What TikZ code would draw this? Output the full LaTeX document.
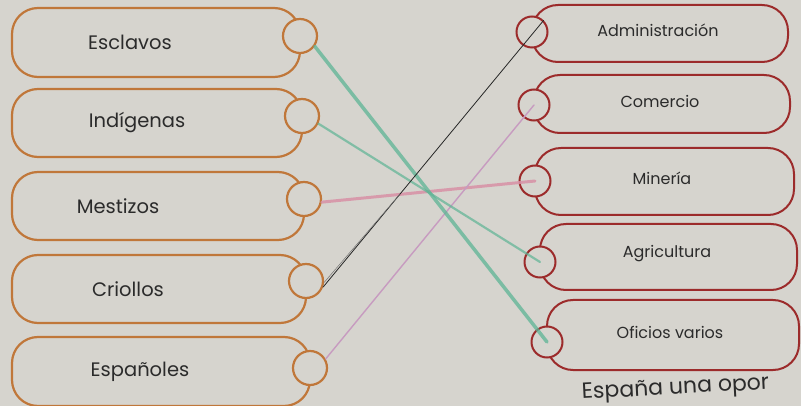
\documentclass[tikz,border=0pt]{standalone}
\usepackage{fontspec}
\setmainfont{Poppins}
\usetikzlibrary{calc}
\definecolor{paper}{HTML}{D6D4CE}
\definecolor{lline}{HTML}{C0773A}
\definecolor{rline}{HTML}{9C2B2B}
\definecolor{ink}{HTML}{2B2B2B}
\definecolor{gpen}{HTML}{5DB495}
\definecolor{ppen}{HTML}{D890A6}
\definecolor{vpen}{HTML}{C79BC0}
\tikzset{
  lbox/.style={draw=lline, line width=2.2pt, rounded corners=26pt, inner sep=0pt},
  rbox/.style={draw=rline, line width=2pt, rounded corners=26pt, inner sep=0pt},
  lcirc/.style={circle, draw=lline, line width=2.2pt, fill=paper, minimum size=34pt, inner sep=0pt},
  rcirc/.style={circle, draw=rline, line width=2pt, fill=paper, minimum size=31pt, inner sep=0pt},
  ltext/.style={text=ink, font=\fontsize{19.5}{22}\selectfont},
  rtext/.style={text=ink, font=\fontsize{16}{18}\selectfont},
  greenpen/.style={draw=gpen, line width=3.5pt, opacity=0.75, line cap=round},
  greenthin/.style={draw=gpen, line width=2.2pt, opacity=0.7, line cap=round},
  pinkpen/.style={draw=ppen, line width=3pt, opacity=0.85, line cap=round},
  violetpen/.style={draw=vpen, line width=1.4pt, line cap=round},
  blackpen/.style={draw=black!85, line width=0.8pt, line cap=round}
}
% #1 name, #2 top, #3 bottom, #4 circle x, #5 circle y, #6 text x, #7 text
\newcommand\leftitem[7]{%
  \node[lbox, minimum width={(#4-12)*1pt}, minimum height={(#3-#2)*1pt}] (#1b) at ({(12+#4)/2},{(#2+#3)/2}) {};
  \node[lcirc] (#1c) at (#4,#5) {};
  \node[ltext] (#1t) at (#6,{(#2+#3)/2}) {#7};
}
% #1 name, #2 top, #3 bottom, #4 circle x, #5 circle y, #6 text x, #7 text, #8 right x
\newcommand\rightitem[8]{%
  \node[rbox, minimum width={(#8-#4)*1pt}, minimum height={(#3-#2)*1pt}] (#1b) at ({(#4+#8)/2},{(#2+#3)/2}) {};
  \node[rcirc] (#1c) at (#4,#5) {};
  \node[rtext] (#1t) at (#6,{(#2+#3)/2-3}) {#7};
}
\begin{document}
\begin{tikzpicture}[x=1pt,y=-1pt]
\useasboundingbox (0,0) rectangle (801,406);
\fill[paper] (0,0) rectangle (801,406);

\leftitem{esc}{8}{77}{300}{36}{130}{Esclavos}
\leftitem{ind}{89}{157}{302}{116}{137}{Indígenas}
\leftitem{mes}{172}{240}{304}{199}{118}{Mestizos}
\leftitem{cri}{255}{323}{306}{281}{128}{Criollos}
\leftitem{esp}{337}{406}{310}{368}{140}{Españoles}

\rightitem{adm}{5}{62}{532}{32}{658}{Administración}{788}
\rightitem{com}{75}{133}{534}{105}{660}{Comercio}{790}
\rightitem{min}{148}{215}{535}{181}{662}{Minería}{794}
\rightitem{agr}{224}{290}{540}{262}{667}{Agricultura}{797}
\rightitem{ofi}{300}{370}{547}{342}{670}{Oficios varios}{799}

\node[text=ink, font=\fontsize{22}{24}\selectfont, anchor=base west, rotate=3, inner sep=0pt] (cont) at (582,399) {España una opor};

% connectors
\draw[pinkpen] (mesc.-10) -- (minc.center);
\draw[violetpen] (espc.30) -- (comc.center);
\draw[greenthin] (indc.-25) -- (agrc.center);
\draw[greenpen] (escc.-35) -- (ofic.center);
\draw[blackpen] (cric.-20) -- (admc.45);
\coordinate (bmid) at ($(cric.-20)!0.35!(admc.45)$);
\draw[draw=black!55, line width=0.5pt] (cric.-5) -- (bmid);
\end{tikzpicture}
\end{document}
